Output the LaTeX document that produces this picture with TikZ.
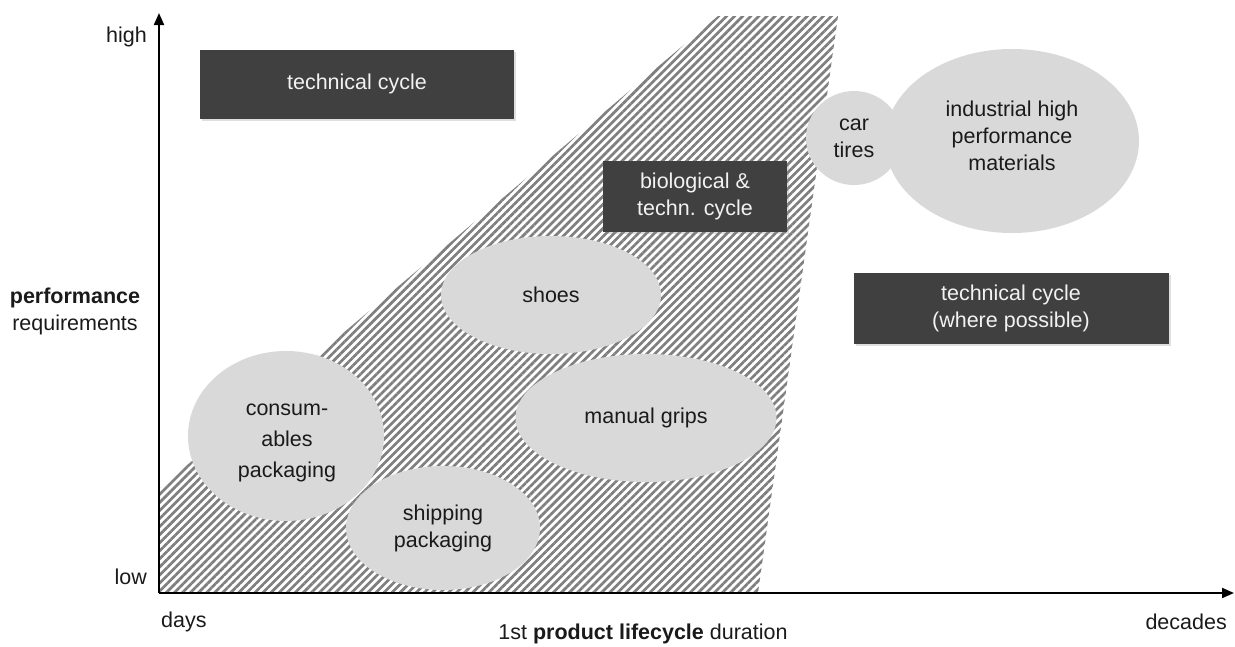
\documentclass[tikz,border=0pt]{standalone}
\usepackage{fontspec}
\setmainfont{Liberation Sans}
\usetikzlibrary{patterns.meta,shapes.geometric,arrows.meta,shadows}
\definecolor{boxgray}{HTML}{404040}
\definecolor{ellgray}{HTML}{D9D9D9}
\definecolor{txt}{HTML}{1A1A1A}
\definecolor{boxtxt}{HTML}{F2F2F2}
\definecolor{hatchgray}{HTML}{7F7F7F}
\begin{document}
\begin{tikzpicture}[x=1pt,y=-1pt,
  every node/.style={font=\fontsize{21.5}{27}\selectfont, text=txt, align=center},
  darkbox/.style={rectangle, fill=boxgray, text=boxtxt, inner sep=0pt,
    drop shadow={opacity=0.25, shadow xshift=2pt, shadow yshift=-2pt}},
  blob/.style={ellipse, fill=ellgray, inner sep=0pt},
  axis/.style={line width=2pt, -{Triangle[length=12pt,width=10pt]}},
  lab/.style={inner sep=0pt}
]
\useasboundingbox (0,0) rectangle (1235,646);
% hatched region
\fill[pattern={Lines[angle=45,distance=5.7pt,line width=2.7pt]}, pattern color=hatchgray]
  (160,593) -- (160,488) -- (718,16) -- (838,16) -- (758,593) -- cycle;
% ellipses
\node[blob, minimum width=96pt, minimum height=94pt] (tires) at (854,138) {car\\tires};
\node[blob, minimum width=254pt, minimum height=184pt] (indus) at (1012,141) {};
\node[lab] (industxt) at (1012,136) {industrial high\\performance\\materials};
\node[blob, minimum width=220pt, minimum height=118pt] (shoes) at (551,295) {shoes};
\node[blob, minimum width=261pt, minimum height=128pt] (grips) at (646,418) {manual grips};
\node[blob, minimum width=196pt, minimum height=170pt] (consum) at (286,436) {};
\node[lab, font=\fontsize{21.5}{31}\selectfont] (consumtxt) at (287,443) {consum-\\ables\\packaging};
\node[blob, minimum width=194pt, minimum height=124pt] (ship) at (443,528) {shipping\\packaging};
% boxes
\node[darkbox, minimum width=314pt, minimum height=69pt] (tech) at (357,84) {technical cycle};
\node[darkbox, minimum width=184pt, minimum height=71pt] (bio) at (695,196) {biological \&\\techn. cycle};
\node[darkbox, minimum width=315pt, minimum height=71pt] (techp) at (1011,308) {technical cycle\\(where possible)};
% axes
\coordinate (O) at (159,593);
\coordinate (Ytip) at (159,13);
\coordinate (Xtip) at (1234,593);
\draw[axis] (O) -- (Ytip);
\draw[axis] (O) -- (Xtip);
% labels
\node[lab, anchor=east] (high) at (147,37) {high};
\node[lab, anchor=east] (low) at (147,577) {low};
\node[lab, anchor=west] (days) at (161,622) {days};
\node[lab, anchor=east] (decades) at (1227,622) {decades};
\node[lab] (xlab) at (643,634) {1st \textbf{product lifecycle} duration};
\node[lab] (ylab) at (75,311) {\textbf{performance}\\requirements};
\end{tikzpicture}
\end{document}
